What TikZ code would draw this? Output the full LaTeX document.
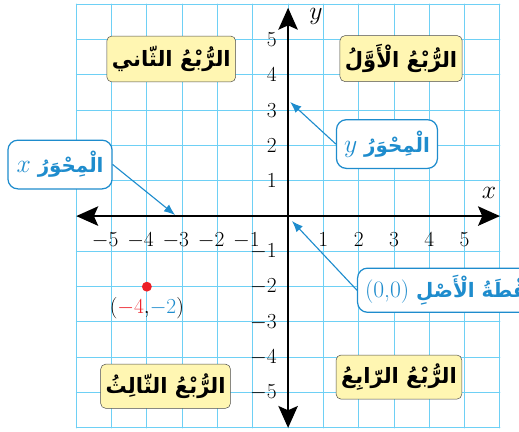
\documentclass[tikz,border=0pt]{standalone}
\usepackage{fontspec}
\usetikzlibrary{arrows.meta}
\newfontfamily\arabicfont[Script=Arabic]{DejaVu Sans}
\TeXXeTstate=1
\definecolor{gridblue}{RGB}{110,208,245}
\definecolor{calloutblue}{RGB}{30,140,205}
\definecolor{quadfill}{RGB}{255,246,178}
\definecolor{pointred}{RGB}{236,32,40}
\newcommand{\axisname}[1]{{\fontsize{22}{24}\selectfont$#1$}}
\begin{document}
\begin{tikzpicture}[line join=round,line cap=round,font=\fontsize{19}{22}\selectfont,
	axis/.style={line width=1.6pt,{Stealth[length=0.62cm,width=0.55cm,inset=0.12cm]}-{Stealth[length=0.62cm,width=0.55cm,inset=0.12cm]}},
	quad/.style={draw=black!70,fill=quadfill,rounded corners=4pt,inner xsep=4pt,inner ysep=4pt,minimum width=2.8cm,minimum height=1.3cm,font=\fontsize{17}{20}\selectfont\arabicfont\bfseries},
	callout/.style={draw=calloutblue,line width=1pt,fill=white,rounded corners=8pt,text=calloutblue,inner xsep=3pt,inner ysep=5pt,minimum height=1.38cm,font=\fontsize{16}{20}\selectfont\arabicfont\bfseries},
	pointer/.style={calloutblue,line width=0.9pt,-{Latex[length=9pt,width=7pt]}}]
	\useasboundingbox (-8.16,-6.09) rectangle (6.54,6.12);
	\draw[gridblue,line width=0.8pt] (-6,-6) grid (6,6);
	\coordinate (O) at (0,0);
	\coordinate (P) at (-4,-2);
	\draw[axis] (-6,0) -- (6,0);
	\draw[axis] (0,-6) -- (0,5.9);
	\node at (5.69,0.65) {\axisname{x}};
	\node at (0.79,5.64) {\axisname{y}};
	\foreach \n in {-5,...,-1} {
		\node[xshift=-0.18cm] at (\n,-0.68) {$\n$};
		\node[anchor=east] at (-0.2,\n) {$\n$};
	}
	\foreach \n in {1,...,5} {
		\node at (\n,-0.68) {$\n$};
		\node[anchor=east] at (-0.2,\n) {$\n$};
	}
	% quadrants
	\node[quad] (q1) at (3.20,4.46) {\beginR الرُّبْعُ الْأَوَّلُ\endR};
	\node[quad] (q2) at (-3.31,4.45) {\beginR الرُّبْعُ الثّاني\endR};
	\node[quad,minimum width=2.65cm,minimum height=1.25cm] (q3) at (-3.47,-4.82) {\beginR الرُّبْعُ الثّالِثُ\endR};
	\node[quad,minimum height=1.25cm] (q4) at (3.14,-4.56) {\beginR الرُّبْعُ الرّابِعُ\endR};
	% callouts
	\coordinate (xtip) at (-3.2,0.03);
	\coordinate (ytip) at (0.06,3.23);
	\coordinate (otip) at (0.11,-0.14);
	\node[callout,minimum width=2.95cm] (xaxis) at (-6.46,1.46) {\beginR الْمِحْوَرُ \axisname{x}\endR};
	\node[callout,minimum width=2.86cm] (yaxis) at (2.80,2.04) {\beginR الْمِحْوَرُ \axisname{y}\endR};
	\node[callout,anchor=west,minimum height=1.25cm,inner xsep=6pt] (origin) at (1.95,-2.10) {\beginR نُقْطَةُ الْأَصْلِ \beginL{\normalfont\fontsize{19}{22}\selectfont(0,0)}\endL\endR};
	\draw[pointer] (xaxis.east) -- (xtip);
	\draw[pointer] (yaxis.west) -- (ytip);
	\draw[pointer] (origin.west) -- (otip);
	% point
	\fill[pointred] (P) circle (0.14);
	\node[font=\fontsize{16}{19}\selectfont] (Plabel) at (-4,-2.6) {$($\textcolor{pointred}{$-4$}$,$\textcolor{calloutblue}{$-2$}$)$};
\end{tikzpicture}
\end{document}
